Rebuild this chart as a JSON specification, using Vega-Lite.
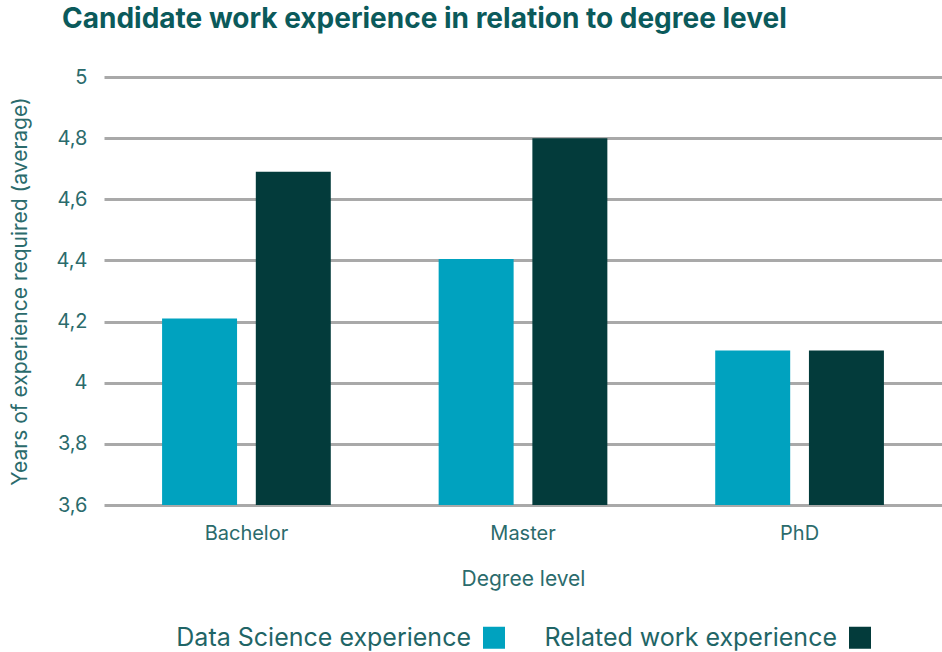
{
  "$schema": "https://vega.github.io/schema/vega-lite/v6.json",
  "autosize": {"type": "fit", "contains": "padding"},
  "width": 942,
  "height": 652,
  "padding": {"left": 9, "top": 6, "right": 0, "bottom": 63},
  "background": "white",
  "title": {
    "text": "Candidate work experience in relation to degree level",
    "anchor": "start",
    "frame": "bounds",
    "dx": 53,
    "font": "Inter",
    "fontSize": 28,
    "fontWeight": "bold",
    "color": "#0b5a5b",
    "offset": 33
  },
  "data": {
    "values": [
      {"degree": "Bachelor", "series": "Data Science experience", "years": 4.21},
      {"degree": "Bachelor", "series": "Related work experience", "years": 4.69},
      {"degree": "Master", "series": "Data Science experience", "years": 4.405},
      {"degree": "Master", "series": "Related work experience", "years": 4.80},
      {"degree": "PhD", "series": "Data Science experience", "years": 4.105},
      {"degree": "PhD", "series": "Related work experience", "years": 4.105}
    ]
  },
  "mark": {"type": "bar", "clip": true},
  "encoding": {
    "x": {
      "field": "degree",
      "type": "nominal",
      "sort": ["Bachelor", "Master", "PhD"],
      "scale": {"paddingInner": 0.39, "paddingOuter": 0.21},
      "axis": {
        "title": "Degree level",
        "labelAngle": 0,
        "domain": false,
        "ticks": false,
        "labelPadding": 18,
        "titlePadding": 25
      }
    },
    "xOffset": {
      "field": "series",
      "type": "nominal",
      "sort": ["Data Science experience", "Related work experience"],
      "scale": {"paddingInner": 0.2, "paddingOuter": 0}
    },
    "y": {
      "field": "years",
      "type": "quantitative",
      "scale": {"domain": [3.6, 5], "zero": false, "nice": false},
      "axis": {
        "title": "Years of experience required (average)",
        "values": [3.6, 3.8, 4, 4.2, 4.4, 4.6, 4.8, 5],
        "labelExpr": "replace(format(datum.value, '.1~f'), '.', ',')",
        "domain": false,
        "ticks": false,
        "grid": true,
        "gridColor": "#a9a9a9",
        "gridWidth": 3,
        "labelPadding": 17,
        "titlePadding": 26
      }
    },
    "color": {
      "field": "series",
      "type": "nominal",
      "sort": ["Data Science experience", "Related work experience"],
      "scale": {"range": ["#00a2bf", "#033b3b"]},
      "legend": {
        "title": null,
        "orient": "none",
        "legendX": 379,
        "legendY": 548,
        "direction": "horizontal",
        "symbolType": "square",
        "symbolSize": 484,
        "symbolStrokeWidth": 0,
        "symbolOpacity": 1,
        "labelFontSize": 25,
        "labelFont": "Inter",
        "labelColor": "#1f6566",
        "labelLimit": 400,
        "columnPadding": 39,
        "encode": {
          "labels": {"update": {"align": {"value": "right"}, "x": {"value": -12}}},
          "symbols": {"update": {"x": {"value": 11}}}
        }
      }
    }
  },
  "config": {
    "view": {"stroke": null},
    "axis": {
      "labelFont": "Inter",
      "titleFont": "Inter",
      "labelFontSize": 20,
      "titleFontSize": 21,
      "titleFontWeight": "normal",
      "labelColor": "#2b6b6c",
      "titleColor": "#2b6b6c"
    }
  }
}
